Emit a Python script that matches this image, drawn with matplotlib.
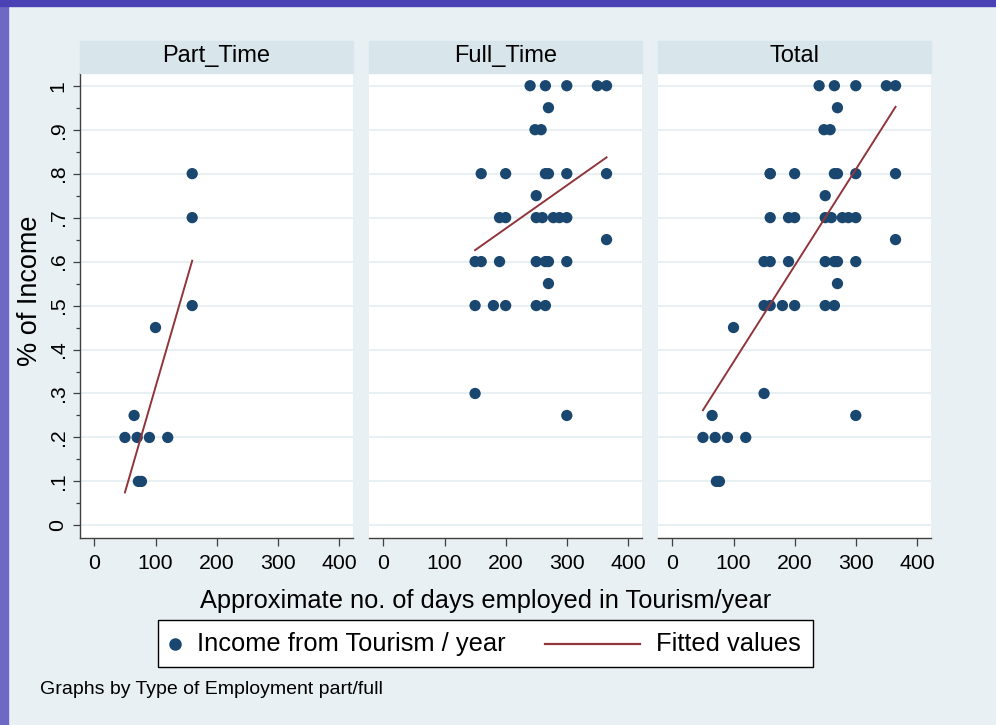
import numpy as np
import matplotlib
matplotlib.use("Agg")
from matplotlib import pyplot as plt
from matplotlib.patches import Rectangle
from matplotlib.lines import Line2D

plt.rcParams['font.family'] = ['Liberation Sans', 'DejaVu Sans']

# data
part_days = [50, 65, 70, 72, 77, 90, 100, 120, 160, 160, 160]
part_income = [0.2, 0.25, 0.2, 0.1, 0.1, 0.2, 0.45, 0.2, 0.8, 0.7, 0.5]

full_days = [240, 265, 300, 350, 365,
             270,
             248, 258,
             160, 200, 265, 270, 300, 365,
             250,
             190, 200, 250, 260, 278, 288, 300,
             365,
             150, 160, 190, 250, 265, 270, 300,
             270,
             150, 180, 200, 250, 265,
             150,
             300]
full_income = [1.0] * 5 + [0.95] + [0.9] * 2 + [0.8] * 6 + [0.75] + [0.7] * 7 + [0.65] \
    + [0.6] * 7 + [0.55] + [0.5] * 5 + [0.3] + [0.25]

total_days = part_days + full_days
total_income = part_income + full_income

# fitted line end points
part_fit_x, part_fit_y = [50, 160], [0.075, 0.602]
full_fit_x, full_fit_y = [150, 365], [0.626, 0.837]
total_fit_x, total_fit_y = [50, 365], [0.262, 0.952]

panel_titles = ['Part_Time', 'Full_Time', 'Total']
x_ticks = [0, 100, 200, 300, 400]
y_ticks = [0, 0.1, 0.2, 0.3, 0.4, 0.5, 0.6, 0.7, 0.8, 0.9, 1.0]
y_tick_labels = ['0', '.1', '.2', '.3', '.4', '.5', '.6', '.7', '.8', '.9', '1']

W, H = 996, 725
BG = '#e8f0f3'
STRIP = '#d8e5eb'
GRID = '#e8f0f3'
NAVY = '#1a476f'
MAROON = '#90353b'
AXCOL = '#404040'

fig = plt.figure(figsize=(W / 100, H / 100), dpi=100, facecolor=BG)


def box(x0, y0, x1, y1):
    # pixel box (top-left origin) -> figure fraction rect
    return [x0 / W, 1 - y1 / H, (x1 - x0) / W, (y1 - y0) / H]


# slide border
fig.patches.append(Rectangle((0, 0), 8 / W, 1, transform=fig.transFigure, color='#6f69c6', zorder=0))
fig.patches.append(Rectangle((0, 1 - 6 / H), 1, 6 / H, transform=fig.transFigure, color='#4a42b4', zorder=0))

panels = [
    (80, 353, part_days, part_income, part_fit_x, part_fit_y),
    (369, 642, full_days, full_income, full_fit_x, full_fit_y),
    (658, 931, total_days, total_income, total_fit_x, total_fit_y),
]
top, bottom, strip_top = 72.7, 537.7, 40.7

for i, (x0, x1, xs, ys, fx_, fy_) in enumerate(panels):
    ax = fig.add_axes(box(x0, top, x1, bottom))
    ax.set_facecolor('white')
    ax.set_xlim(-23.5, 423)
    ax.set_ylim(-0.028, 1.0296)
    for yv in y_ticks:
        ax.axhline(yv, color=GRID, lw=1.4, zorder=1)
    ax.scatter(xs, ys, s=66, color=NAVY, edgecolors='none', zorder=3)
    ax.plot(fx_, fy_, color=MAROON, lw=1.4, zorder=4)

    for side in ['top', 'right']:
        ax.spines[side].set_visible(False)
    ax.spines['bottom'].set_color(AXCOL)
    ax.spines['bottom'].set_linewidth(1.0)
    ax.set_xticks(x_ticks)
    ax.set_xticklabels([str(t) for t in x_ticks])
    ax.tick_params(axis='x', direction='out', length=6, width=0.9, color=AXCOL,
                   labelsize=15.3, pad=6)
    if i == 0:
        ax.spines['left'].set_color(AXCOL)
        ax.spines['left'].set_linewidth(1.0)
        ax.set_yticks(y_ticks)
        ax.set_yticklabels(y_tick_labels, rotation=90, va='center')
        ax.set_yticks(np.arange(0.05, 1.0, 0.1), minor=True)
        ax.tick_params(axis='y', which='major', direction='out', length=5, width=0.9,
                       color=AXCOL, labelsize=15.3, pad=4)
        ax.tick_params(axis='y', which='minor', direction='out', length=3, width=0.9,
                       color=AXCOL)
    else:
        ax.spines['left'].set_visible(False)
        ax.set_yticks([])

    # strip with panel title
    fig.patches.append(Rectangle((x0 / W, 1 - top / H), (x1 - x0) / W, (top - strip_top) / H,
                                 transform=fig.transFigure, color=STRIP, zorder=1))
    fig.text((x0 + x1) / 2 / W, 1 - 56 / H, panel_titles[i], ha='center', va='center',
             fontsize=17)

fig.text(30 / W, 1 - 291 / H, '% of Income', ha='center', va='center', rotation=90,
         fontsize=19.5)
fig.text(486 / W, 1 - 601 / H, 'Approximate no. of days employed in Tourism/year',
         ha='center', va='center', fontsize=18.3)

# legend
fig.patches.append(Rectangle((158 / W, 1 - 667 / H), (813 - 158) / W, (667 - 620) / H,
                             transform=fig.transFigure, facecolor='white',
                             edgecolor='black', lw=1.0, zorder=2))
fig.lines.append(Line2D([175 / W], [1 - 644 / H], transform=fig.transFigure, marker='o',
                        markersize=8, color=NAVY, linestyle='none', zorder=3))
fig.text(197 / W, 1 - 644 / H, 'Income from Tourism / year', ha='left', va='center',
         fontsize=18.4, zorder=3)
fig.lines.append(Line2D([545 / W, 640 / W], [1 - 644 / H, 1 - 644 / H],
                        transform=fig.transFigure, color=MAROON, lw=1.6, zorder=3))
fig.text(656 / W, 1 - 644 / H, 'Fitted values', ha='left', va='center', fontsize=18.4,
         zorder=3)

fig.text(40 / W, 1 - 690 / H, 'Graphs by Type of Employment part/full', ha='left',
         va='center', fontsize=14)

fig.savefig('out.png', dpi=100, facecolor=BG)
